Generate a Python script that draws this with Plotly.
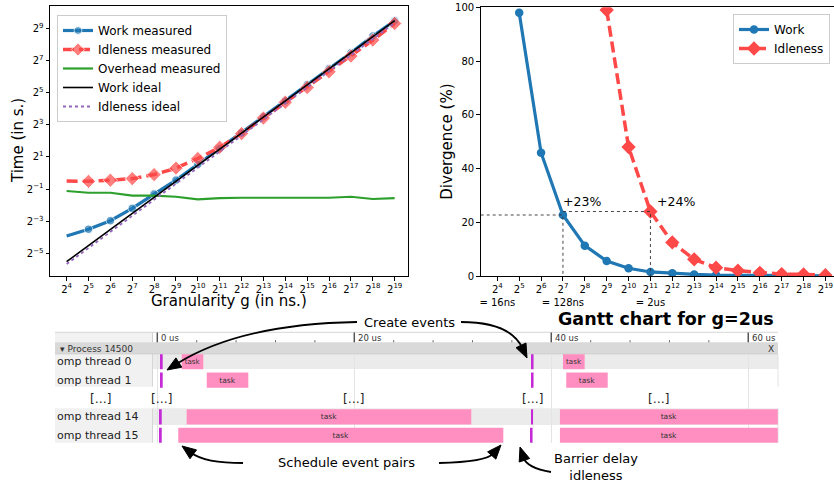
import math
import plotly.graph_objects as go

W, H = 834, 484
FONT = "DejaVu Sans"

# ---------------- data ----------------
GRAN_NS = [16, 32, 64, 128, 256, 512, 1024, 2048, 4096, 8192,
           16384, 32768, 65536, 131072, 262144, 524288]
GRAN_EXP = [4, 5, 6, 7, 8, 9, 10, 11, 12, 13, 14, 15, 16, 17, 18, 19]
GRAN_NOTE = {4: "= 16ns", 7: "= 128ns", 11: "= 2us"}
TIME_TICK_EXP = [-5, -3, -1, 1, 3, 5, 7, 9]

WORK_MEASURED = [0.0661, 0.0884, 0.1276, 0.2176, 0.4033, 0.737, 1.454, 2.888,
                 5.657, 11.31, 22.47, 45.57, 90.51, 178.5, 367.1, 709.2]
IDLE_MEASURED = [0.7071, 0.6973, 0.732, 0.7846, 0.933, 1.231, 1.866, 3.031,
                 5.464, 10.70, 21.11, 39.95, 78.79, 154.4, 308.7, 630.3]
OVERHEAD_MEASURED = [0.4601, 0.4263, 0.4263, 0.3763, 0.3763, 0.3585, 0.3209, 0.3392,
                     0.3439, 0.3439, 0.3439, 0.3439, 0.3439, 0.3585, 0.3253, 0.3392]
WORK_IDEAL = [0.02182, 0.04365, 0.0873, 0.1746, 0.3492, 0.6984, 1.397, 2.794,
              5.587, 11.17, 22.35, 44.70, 89.40, 178.8, 357.6, 715.2]
IDLE_IDEAL = [0.01967, 0.03934, 0.0787, 0.1574, 0.3147, 0.6295, 1.259, 2.518,
              5.036, 10.07, 20.14, 40.29, 80.58, 161.2, 322.3, 644.6]

DIV_WORK_GRAN = [32, 64, 128, 256, 512, 1024, 2048, 4096, 8192,
                 16384, 32768, 65536, 131072, 262144, 524288]
DIV_WORK = [98, 45.9, 22.7, 11.3, 5.6, 2.9, 1.5, 1.0, 0.6, 0.35, 0.25, 0.15, 0.1, 0.1, 0.05]
DIV_IDLE_GRAN = [512, 1024, 2048, 4096, 8192, 16384, 32768, 65536, 131072, 262144, 524288]
DIV_IDLE = [99, 48, 24, 12.5, 6.2, 3.1, 2.0, 1.2, 0.7, 0.6, 0.3]
DIV_TICKS = [0, 20, 40, 60, 80, 100]

# Gantt chart (times in microseconds)
THREAD_NAMES = ["omp thread 0", "omp thread 1", "omp thread 14", "omp thread 15"]
THREAD_ROWS = [0, 1, 3, 4]
TASK_ROW = [0, 0, 1, 1, 3, 3, 4, 4]
TASK_START = [2.48, 41.19, 5.02, 41.52, 2.98, 40.88, 2.13, 40.88]
TASK_END = [4.67, 43.39, 9.24, 45.73, 31.88, 63.0, 35.13, 63.0]
EVENT_ROW = [0, 1, 3, 4, 0, 1, 3, 4]
EVENT_TIME = [0.45, 0.45, 0.35, 0.35, 38.1, 38.1, 38.05, 38.0]
ELLIPSIS_TIME = [0.45, 19.9, 38.1, 50.9]
RULER_MAJOR = [0, 20, 40, 60]
RULER_MINOR = [4, 8, 12, 16, 24, 28, 32, 36, 44, 48, 52, 56]

# ---------------- helpers ----------------
def px(x):
    return x / W


def py(y):
    return 1 - y / H


L2 = math.log10(2)
BLUE = "#1f77b4"
RED = "#ff4848"
GREEN = "#2ca02c"
PURPLE = "#9467bd"
PINK = "#ff8fc1"
MAGENTA = "#c42ad6"


def sup(e):
    s = str(e).replace("-", "\u2212")
    return f"2<sup>{s}</sup>"


fig = go.Figure()

first_hidden = [0] + [1] * 15

# ---------------- left chart ----------------
fig.add_trace(go.Scatter(
    x=GRAN_NS, y=WORK_MEASURED, name="Work measured", mode="lines+markers",
    line=dict(color=BLUE, width=3.2),
    marker=dict(symbol="circle", size=[8.5 * v for v in first_hidden], color=BLUE),
    xaxis="x", yaxis="y", legend="legend"))
fig.add_trace(go.Scatter(
    x=GRAN_NS, y=IDLE_MEASURED, name="Idleness measured", mode="lines+markers",
    line=dict(color=RED, width=3.5, dash="11px,5px"),
    marker=dict(symbol="diamond", size=[11 * v for v in first_hidden], color=RED),
    xaxis="x", yaxis="y", legend="legend"))
fig.add_trace(go.Scatter(
    x=GRAN_NS, y=OVERHEAD_MEASURED, name="Overhead measured", mode="lines",
    line=dict(color=GREEN, width=2.2),
    xaxis="x", yaxis="y", legend="legend"))
fig.add_trace(go.Scatter(
    x=GRAN_NS, y=WORK_IDEAL, name="Work ideal", mode="lines",
    line=dict(color="black", width=1.6),
    xaxis="x", yaxis="y", legend="legend"))
fig.add_trace(go.Scatter(
    x=GRAN_NS, y=IDLE_IDEAL, name="Idleness ideal", mode="lines",
    line=dict(color=PURPLE, width=1.8, dash="3px,3px"),
    xaxis="x", yaxis="y", legend="legend"))

# ---------------- right chart ----------------
fig.add_trace(go.Scatter(
    x=DIV_WORK_GRAN, y=DIV_WORK, name="Work", mode="lines+markers",
    line=dict(color=BLUE, width=3.2),
    marker=dict(symbol="circle", size=8.5, color=BLUE),
    xaxis="x2", yaxis="y2", legend="legend2"))
fig.add_trace(go.Scatter(
    x=DIV_IDLE_GRAN, y=DIV_IDLE, name="Idleness", mode="lines+markers",
    line=dict(color=RED, width=3.5, dash="11px,5px"),
    marker=dict(symbol="diamond", size=11, color=RED),
    xaxis="x2", yaxis="y2", legend="legend2"))

X2_RANGE = [3.24 * L2, 19.37 * L2]
w_i = DIV_WORK_GRAN.index(128)
i_i = DIV_IDLE_GRAN.index(2048)
fig.add_trace(go.Scatter(
    x=[10 ** X2_RANGE[0], DIV_WORK_GRAN[w_i], DIV_WORK_GRAN[w_i]],
    y=[DIV_WORK[w_i], DIV_WORK[w_i], 0], mode="lines",
    line=dict(color="#333333", width=0.9, dash="dot"),
    showlegend=False, xaxis="x2", yaxis="y2", hoverinfo="skip"))
fig.add_trace(go.Scatter(
    x=[DIV_WORK_GRAN[w_i], DIV_IDLE_GRAN[i_i], DIV_IDLE_GRAN[i_i]],
    y=[DIV_IDLE[i_i], DIV_IDLE[i_i], 0], mode="lines",
    line=dict(color="#333333", width=0.9, dash="dot"),
    showlegend=False, xaxis="x2", yaxis="y2", hoverinfo="skip"))

# ---------------- Gantt ----------------
fig.add_trace(go.Bar(
    y=TASK_ROW, base=TASK_START, x=[e - s for s, e in zip(TASK_START, TASK_END)],
    orientation="h", width=0.82, marker=dict(color=PINK, line=dict(width=0)),
    text=["task"] * len(TASK_ROW), textposition="inside", insidetextanchor="middle",
    textangle=0, textfont=dict(size=7.5, color="#333333", family=FONT),
    showlegend=False, xaxis="x3", yaxis="y3", hoverinfo="skip"))
fig.add_trace(go.Bar(
    y=EVENT_ROW, base=[t - 0.1 for t in EVENT_TIME], x=[0.2] * len(EVENT_TIME),
    orientation="h", width=0.82, marker=dict(color=MAGENTA, line=dict(width=0)),
    showlegend=False, xaxis="x3", yaxis="y3", hoverinfo="skip"))

# ---------------- shapes ----------------
shapes = []


def rect(x0, y0, x1, y1, color):
    shapes.append(dict(type="rect", xref="paper", yref="paper",
                       x0=px(x0), x1=px(x1), y0=py(y0), y1=py(y1),
                       fillcolor=color, line=dict(width=0), layer="below"))


def hline(x0, x1, y, color, w=1):
    shapes.append(dict(type="line", xref="paper", yref="paper",
                       x0=px(x0), x1=px(x1), y0=py(y), y1=py(y),
                       line=dict(color=color, width=w), layer="below"))


def vline(x, y0, y1, color, w=1):
    shapes.append(dict(type="line", xref="paper", yref="paper",
                       x0=px(x), x1=px(x), y0=py(y0), y1=py(y1),
                       line=dict(color=color, width=w), layer="below"))


# Gantt chrome
rect(55, 332.3, 152, 342.3, "#f2f2f2")
hline(55, 778, 332.3, "#d6d6d6")
rect(55, 342.3, 778, 354.3, "#d9d9d9")
hline(55, 778, 354.3, "#b8b8b8")
rect(55, 354.3, 152, 386.7, "#f1f1f1")
rect(55, 408.3, 152, 442.7, "#f1f1f1")
rect(153, 354.3, 778, 369, "#ebebeb")
rect(153, 408.3, 778, 425, "#ebebeb")
vline(152.5, 332.3, 342.3, "#cfcfcf")
vline(152.5, 354.3, 386.7, "#d6d6d6")
vline(152.5, 408.3, 442.7, "#d6d6d6")
vline(778, 354.3, 386.7, "#e2e2e2")
vline(778, 408.3, 442.7, "#e2e2e2")

for t in RULER_MAJOR:
    shapes.append(dict(type="line", xref="x3", yref="paper", x0=t, x1=t,
                       y0=py(332.5), y1=py(342.3), line=dict(color="#555555", width=1.5)))
for t in RULER_MINOR:
    shapes.append(dict(type="line", xref="x3", yref="paper", x0=t, x1=t,
                       y0=py(340.2), y1=py(342.3), line=dict(color="#666666", width=1)))


def arrow(p0, c, tip, head_len=14, head_w=5.5, lw=1.8):
    tx, ty = tip[0] - c[0], tip[1] - c[1]
    n = math.hypot(tx, ty)
    ux, uy = tx / n, ty / n
    bx, by = tip[0] - ux * head_len * 0.8, tip[1] - uy * head_len * 0.8
    path = (f"M {px(p0[0])},{py(p0[1])} Q {px(c[0])},{py(c[1])} {px(bx)},{py(by)}")
    shapes.append(dict(type="path", xref="paper", yref="paper", path=path,
                       line=dict(color="black", width=lw)))
    hbx, hby = tip[0] - ux * head_len, tip[1] - uy * head_len
    nx, ny = -uy, ux
    pts = [(tip[0], tip[1]),
           (hbx + nx * head_w, hby + ny * head_w),
           (hbx - nx * head_w, hby - ny * head_w)]
    tri = "M " + " L ".join(f"{px(a)},{py(b)}" for a, b in pts) + " Z"
    shapes.append(dict(type="path", xref="paper", yref="paper", path=tri,
                       fillcolor="black", line=dict(color="black", width=1)))


arrow((357, 322), (240, 324), (167, 370))
arrow((461, 322), (510, 322), (527, 358))
arrow((243, 463), (205, 463), (182, 446))
arrow((439, 463), (486, 462), (501, 445))
arrow((551, 472), (527, 468), (520, 447))

# ---------------- annotations ----------------
ann = []


def text(x, y, s, size=12, xanchor="center", yanchor="middle", angle=0, color="black", **kw):
    ann.append(dict(x=px(x), y=py(y), xref="paper", yref="paper", text=s,
                    showarrow=False, xanchor=xanchor, yanchor=yanchor, textangle=angle,
                    font=dict(size=size, color=color, family=FONT), **kw))


text(18, 141, "Time (in s.)", size=15, angle=-90)
text(229, 301, "Granularity g (in ns.)", size=15)
text(447, 141.7, "Divergence (%)", size=15, angle=-90)

ann.append(dict(x=math.log10(DIV_WORK_GRAN[w_i]), y=DIV_WORK[w_i], xref="x2", yref="y2",
                text="+23%", showarrow=False, xanchor="left", yanchor="middle",
                xshift=-2, yshift=14, font=dict(size=12.5, color="black", family=FONT)))
ann.append(dict(x=math.log10(DIV_IDLE_GRAN[i_i]), y=DIV_IDLE[i_i], xref="x2", yref="y2",
                text="+24%", showarrow=False, xanchor="left", yanchor="middle",
                xshift=5, yshift=10.5, font=dict(size=12.5, color="black", family=FONT)))

# Gantt texts
text(666, 319, "<b>Gantt chart for g=2us</b>", size=17.5)
text(409, 322, "Create events", size=13)
text(346, 462, "Schedule event pairs", size=13)
text(596, 467, "Barrier delay<br>idleness", size=13)

for t in RULER_MAJOR:
    ann.append(dict(x=t, y=py(337.6), xref="x3", yref="paper", text=f"{t} us",
                    showarrow=False, xanchor="left", yanchor="middle", xshift=1.5,
                    font=dict(size=8.5, color="#333333", family=FONT)))
text(58, 348.5, "\u25be Process 14500", size=9, xanchor="left", color="#333333")
text(776, 348.5, "X", size=9, xanchor="right", color="#333333")

for name, row in zip(THREAD_NAMES, THREAD_ROWS):
    ann.append(dict(x=px(55), y=row, xref="paper", yref="y3", text=name, showarrow=False,
                    xanchor="left", yanchor="middle",
                    font=dict(size=11, color="#222222", family=FONT)))
ann.append(dict(x=px(100), y=2, xref="paper", yref="y3", text="[\u2026]", showarrow=False,
                xanchor="center", yanchor="middle", font=dict(size=12, color="#222222", family=FONT)))
for t in ELLIPSIS_TIME:
    ann.append(dict(x=t, y=2, xref="x3", yref="y3", text="[\u2026]", showarrow=False,
                    xanchor="center", yanchor="middle",
                    font=dict(size=12, color="#222222", family=FONT)))

# ---------------- layout ----------------
axis_common = dict(showline=True, linecolor="black", linewidth=1, mirror=True,
                   ticks="outside", ticklen=3.5, tickcolor="black", showgrid=False,
                   zeroline=False, automargin=False,
                   tickfont=dict(size=10, color="black", family=FONT))

x2_text = []
for e in GRAN_EXP:
    t = sup(e)
    if e in GRAN_NOTE:
        t += "<br>" + GRAN_NOTE[e]
    x2_text.append(t)

fig.update_layout(
    width=W, height=H, margin=dict(l=0, r=0, t=0, b=0, autoexpand=False),
    paper_bgcolor="white", plot_bgcolor="white",
    font=dict(family=FONT, color="black"),
    barmode="overlay",
    xaxis=dict(domain=[px(50), px(408)], anchor="y", type="log",
               range=[3.24 * L2, 19.61 * L2], tickvals=GRAN_NS, tickangle=0,
               ticktext=[sup(e) for e in GRAN_EXP], **axis_common),
    yaxis=dict(domain=[py(276), py(6)], anchor="x", type="log",
               range=[-6.41 * L2, 10.39 * L2], tickvals=[2.0 ** e for e in TIME_TICK_EXP],
               ticktext=[sup(e) for e in TIME_TICK_EXP], **axis_common),
    xaxis2=dict(domain=[px(480.7), px(833.5)], anchor="y2", type="log", tickangle=0,
                range=X2_RANGE, tickvals=GRAN_NS, ticktext=x2_text, **axis_common),
    yaxis2=dict(domain=[py(276), py(7.3)], anchor="x2", range=[0, 100],
                tickvals=DIV_TICKS, **axis_common),
    xaxis3=dict(domain=[px(153), px(778)], anchor="y3", range=[-0.437, 63.02],
                showgrid=True, gridcolor="#e4e4e4", gridwidth=1, tickvals=RULER_MAJOR,
                showticklabels=False, ticks="", showline=False, zeroline=False,
                automargin=False),
    yaxis3=dict(domain=[py(442.7), py(354.3)], anchor="x3", range=[4.4, -0.4],
                showgrid=False, showticklabels=False, ticks="", showline=False,
                zeroline=False, automargin=False),
    legend=dict(x=px(57), y=py(15), xanchor="left", yanchor="top",
                bgcolor="rgba(255,255,255,0.85)", bordercolor="#cccccc", borderwidth=1,
                font=dict(size=12, family=FONT, color="black"), itemwidth=30),
    legend2=dict(x=px(830), y=py(14), xanchor="right", yanchor="top",
                 bgcolor="rgba(255,255,255,0.85)", bordercolor="#cccccc", borderwidth=1,
                 font=dict(size=12, family=FONT, color="black"), itemwidth=30),
    shapes=shapes, annotations=ann,
)

fig.write_html("out.html", config={"displayModeBar": False},
               post_script="document.body.style.margin='0px';"
                           "document.body.style.overflow='hidden';")
